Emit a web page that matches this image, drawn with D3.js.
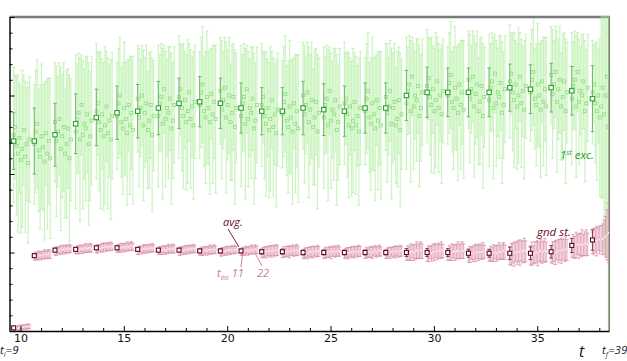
<!DOCTYPE html>
<html><head><meta charset="utf-8">
<script src="https://cdn.jsdelivr.net/npm/d3@7"></script>
<style>body{margin:0;background:#fff}svg{display:block}</style>
</head><body>
<script>
// ---------------- DATA ----------------
const times = [10,11,12,13,14,15,16,17,18,19,20,21,22,23,24,25,26,27,28,29,30,31,32,33,34,35,36,37,38];
const tInsLabels = ["11","22"];
const xTickLabels = [10,15,20,25,30,35];

// averaged first excited state
const excAvg = [1.21,1.21,1.25,1.32,1.36,1.39,1.40,1.42,1.45,1.46,1.45,1.42,1.40,1.40,1.42,1.41,1.40,1.42,1.42,1.50,1.52,1.52,1.52,1.52,1.55,1.54,1.55,1.53,1.48];
const excAvgErr = [0.18,0.21,0.20,0.19,0.18,0.17,0.17,0.17,0.16,0.16,0.16,0.16,0.15,0.15,0.17,0.165,0.16,0.16,0.16,0.16,0.16,0.155,0.155,0.155,0.15,0.155,0.155,0.155,0.21];

// individual insertion times t_ins = 11..22 for first excited state
const excVals = [
[1.25,1.30,1.18,1.13,1.23,1.09,1.16,1.28,1.11,1.19,1.07,1.22],
[1.19,1.27,1.32,1.15,1.11,1.24,1.17,1.08,1.26,1.13,1.21,1.10],
[1.33,1.21,1.27,1.35,1.16,1.24,1.30,1.13,1.19,1.29,1.10,1.22],
[1.27,1.35,1.39,1.22,1.44,1.25,1.32,1.29,1.38,1.19,1.24,1.34],
[1.40,1.45,1.33,1.28,1.38,1.24,1.31,1.43,1.26,1.34,1.22,1.37],
[1.37,1.45,1.50,1.33,1.29,1.42,1.35,1.26,1.44,1.31,1.39,1.28],
[1.48,1.36,1.42,1.50,1.31,1.39,1.45,1.28,1.34,1.44,1.25,1.37],
[1.37,1.45,1.49,1.32,1.54,1.35,1.42,1.39,1.48,1.29,1.34,1.44],
[1.49,1.54,1.42,1.37,1.47,1.33,1.40,1.52,1.35,1.43,1.31,1.46],
[1.44,1.52,1.57,1.40,1.36,1.49,1.42,1.33,1.51,1.38,1.46,1.35],
[1.53,1.41,1.47,1.55,1.36,1.44,1.50,1.33,1.39,1.49,1.30,1.42],
[1.37,1.45,1.49,1.32,1.54,1.35,1.42,1.39,1.48,1.29,1.34,1.44],
[1.44,1.49,1.37,1.32,1.42,1.28,1.35,1.47,1.30,1.38,1.26,1.41],
[1.38,1.46,1.51,1.34,1.30,1.43,1.36,1.27,1.45,1.32,1.40,1.29],
[1.50,1.38,1.44,1.52,1.33,1.41,1.47,1.30,1.36,1.46,1.27,1.39],
[1.36,1.44,1.48,1.31,1.53,1.34,1.41,1.38,1.47,1.28,1.33,1.43],
[1.45,1.48,1.38,1.31,1.43,1.29,1.34,1.46,1.31,1.37,1.27,1.42],
[1.40,1.48,1.53,1.36,1.32,1.45,1.38,1.29,1.47,1.34,1.42,1.31],
[1.49,1.39,1.43,1.53,1.32,1.42,1.46,1.31,1.35,1.47,1.28,1.38],
[1.45,1.53,1.57,1.40,1.62,1.43,1.50,1.47,1.56,1.37,1.42,1.52],
[1.56,1.61,1.49,1.44,1.54,1.40,1.47,1.59,1.42,1.50,1.38,1.53],
[1.50,1.58,1.63,1.46,1.42,1.55,1.48,1.39,1.57,1.44,1.52,1.41],
[1.60,1.48,1.54,1.62,1.43,1.51,1.57,1.40,1.46,1.56,1.37,1.49],
[1.47,1.55,1.59,1.42,1.64,1.45,1.52,1.49,1.58,1.39,1.44,1.54],
[1.59,1.64,1.52,1.47,1.57,1.43,1.50,1.62,1.45,1.53,1.41,1.56],
[1.52,1.60,1.65,1.48,1.44,1.57,1.50,1.41,1.59,1.46,1.54,1.43],
[1.63,1.51,1.57,1.65,1.46,1.54,1.60,1.43,1.49,1.59,1.40,1.52],
[1.48,1.56,1.60,1.43,1.65,1.46,1.53,1.50,1.59,1.40,1.45,1.55],
[1.52,1.57,1.45,1.40,1.50,1.36,1.43,1.55,1.38,1.50,1.62,1.30]
];
const excErrs = [
[0.43,0.33,0.44,0.50,0.35,0.47,0.50,0.35,0.48,0.36,0.51,0.40],
[0.38,0.39,0.41,0.39,0.46,0.46,0.40,0.50,0.33,0.48,0.40,0.51],
[0.38,0.48,0.35,0.36,0.52,0.39,0.41,0.41,0.47,0.38,0.53,0.39],
[0.49,0.35,0.38,0.52,0.32,0.47,0.35,0.46,0.37,0.52,0.41,0.41],
[0.43,0.33,0.44,0.50,0.35,0.47,0.50,0.35,0.48,0.36,0.51,0.40],
[0.34,0.35,0.37,0.35,0.42,0.42,0.36,0.46,0.29,0.44,0.36,0.47],
[0.34,0.44,0.31,0.32,0.48,0.35,0.37,0.37,0.43,0.34,0.49,0.35],
[0.45,0.31,0.34,0.48,0.28,0.43,0.31,0.42,0.33,0.48,0.37,0.37],
[0.39,0.29,0.40,0.46,0.31,0.43,0.46,0.31,0.44,0.32,0.47,0.36],
[0.34,0.35,0.37,0.35,0.42,0.42,0.36,0.46,0.29,0.44,0.36,0.47],
[0.34,0.44,0.31,0.32,0.48,0.35,0.37,0.37,0.43,0.34,0.49,0.35],
[0.45,0.31,0.34,0.48,0.28,0.43,0.31,0.42,0.33,0.48,0.37,0.37],
[0.39,0.29,0.40,0.46,0.31,0.43,0.46,0.31,0.44,0.32,0.47,0.36],
[0.34,0.35,0.37,0.35,0.42,0.42,0.36,0.46,0.29,0.44,0.36,0.47],
[0.34,0.44,0.31,0.32,0.48,0.35,0.37,0.37,0.43,0.34,0.49,0.35],
[0.45,0.31,0.34,0.48,0.28,0.43,0.31,0.42,0.33,0.48,0.37,0.37],
[0.39,0.29,0.40,0.46,0.31,0.43,0.46,0.31,0.44,0.32,0.47,0.36],
[0.34,0.35,0.37,0.35,0.42,0.42,0.36,0.46,0.29,0.44,0.36,0.47],
[0.34,0.44,0.31,0.32,0.48,0.35,0.37,0.37,0.43,0.34,0.49,0.35],
[0.42,0.28,0.31,0.45,0.25,0.40,0.28,0.39,0.30,0.45,0.34,0.34],
[0.36,0.26,0.37,0.43,0.28,0.40,0.43,0.28,0.41,0.29,0.44,0.33],
[0.31,0.32,0.34,0.32,0.39,0.39,0.33,0.43,0.26,0.41,0.33,0.44],
[0.31,0.41,0.28,0.29,0.45,0.32,0.34,0.34,0.40,0.31,0.46,0.32],
[0.42,0.28,0.31,0.45,0.25,0.40,0.28,0.39,0.30,0.45,0.34,0.34],
[0.36,0.26,0.37,0.43,0.28,0.40,0.43,0.28,0.41,0.29,0.44,0.33],
[0.31,0.32,0.34,0.32,0.39,0.39,0.33,0.43,0.26,0.41,0.33,0.44],
[0.31,0.41,0.28,0.29,0.45,0.32,0.34,0.34,0.40,0.31,0.46,0.32],
[0.42,0.28,0.31,0.45,0.25,0.40,0.28,0.39,0.30,0.45,0.34,0.34],
[0.33,0.25,0.38,0.44,0.30,0.50,0.58,0.70,0.85,1.00,1.15,1.35]
];

// averaged ground state
const gndAvg = [0.02,0.48,0.515,0.52,0.53,0.53,0.52,0.515,0.515,0.51,0.51,0.51,0.505,0.505,0.50,0.50,0.50,0.50,0.50,0.50,0.50,0.50,0.495,0.495,0.495,0.495,0.505,0.545,0.58];
const gndAvgErr = [0.01,0.012,0.012,0.012,0.012,0.012,0.012,0.012,0.012,0.012,0.012,0.012,0.015,0.015,0.015,0.015,0.015,0.015,0.015,0.025,0.025,0.025,0.025,0.025,0.04,0.04,0.04,0.045,0.065];

const gndVals = [
[0.010,0.014,0.020,0.016,0.024,0.022,0.026,0.023,0.028,0.025,0.030,0.027],
[0.472,0.478,0.475,0.481,0.484,0.479,0.485,0.489,0.484,0.488,0.491,0.486],
[0.505,0.509,0.515,0.511,0.519,0.517,0.521,0.518,0.523,0.520,0.525,0.522],
[0.512,0.518,0.515,0.521,0.524,0.519,0.525,0.529,0.524,0.528,0.531,0.526],
[0.520,0.524,0.530,0.526,0.534,0.532,0.536,0.533,0.538,0.535,0.540,0.537],
[0.522,0.528,0.525,0.531,0.534,0.529,0.535,0.539,0.534,0.538,0.541,0.536],
[0.510,0.514,0.520,0.516,0.524,0.522,0.526,0.523,0.528,0.525,0.530,0.527],
[0.507,0.513,0.510,0.516,0.519,0.514,0.520,0.524,0.519,0.523,0.526,0.521],
[0.505,0.509,0.515,0.511,0.519,0.517,0.521,0.518,0.523,0.520,0.525,0.522],
[0.502,0.508,0.505,0.511,0.514,0.509,0.515,0.519,0.514,0.518,0.521,0.516],
[0.500,0.504,0.510,0.506,0.514,0.512,0.516,0.513,0.518,0.515,0.520,0.517],
[0.502,0.508,0.505,0.511,0.514,0.509,0.515,0.519,0.514,0.518,0.521,0.516],
[0.495,0.499,0.505,0.501,0.509,0.507,0.511,0.508,0.513,0.510,0.515,0.512],
[0.497,0.503,0.500,0.506,0.509,0.504,0.510,0.514,0.509,0.513,0.516,0.511],
[0.490,0.494,0.500,0.496,0.504,0.502,0.506,0.503,0.508,0.505,0.510,0.507],
[0.492,0.498,0.495,0.501,0.504,0.499,0.505,0.509,0.504,0.508,0.511,0.506],
[0.490,0.494,0.500,0.496,0.504,0.502,0.506,0.503,0.508,0.505,0.510,0.507],
[0.491,0.499,0.496,0.502,0.503,0.500,0.506,0.510,0.503,0.509,0.512,0.507],
[0.489,0.495,0.501,0.497,0.505,0.501,0.507,0.504,0.509,0.504,0.511,0.508],
[0.488,0.497,0.492,0.502,0.506,0.499,0.507,0.513,0.505,0.511,0.515,0.508],
[0.486,0.492,0.500,0.494,0.506,0.503,0.509,0.504,0.512,0.507,0.515,0.510],
[0.488,0.497,0.492,0.502,0.506,0.499,0.507,0.513,0.505,0.511,0.515,0.508],
[0.481,0.487,0.495,0.489,0.501,0.498,0.504,0.499,0.507,0.502,0.510,0.505],
[0.483,0.492,0.487,0.497,0.501,0.494,0.502,0.508,0.500,0.506,0.510,0.503],
[0.480,0.488,0.496,0.490,0.503,0.499,0.506,0.500,0.509,0.504,0.513,0.507],
[0.482,0.492,0.486,0.498,0.503,0.495,0.504,0.511,0.501,0.508,0.513,0.505],
[0.490,0.498,0.506,0.500,0.513,0.509,0.516,0.510,0.519,0.514,0.523,0.517],
[0.530,0.540,0.534,0.546,0.551,0.543,0.552,0.559,0.549,0.556,0.561,0.553],
[0.562,0.570,0.578,0.572,0.585,0.581,0.590,0.584,0.596,0.600,0.612,0.625]
];
const gndErrs = [
[0.012,0.015,0.010,0.014,0.013,0.016,0.011,0.015,0.012,0.014,0.016,0.013],
[0.020,0.025,0.023,0.028,0.021,0.026,0.024,0.029,0.023,0.025,0.028,0.024],
[0.022,0.027,0.020,0.025,0.024,0.029,0.021,0.026,0.025,0.023,0.027,0.022],
[0.020,0.025,0.023,0.028,0.021,0.026,0.024,0.029,0.023,0.025,0.028,0.024],
[0.022,0.027,0.020,0.025,0.024,0.029,0.021,0.026,0.025,0.023,0.027,0.022],
[0.020,0.025,0.023,0.028,0.021,0.026,0.024,0.029,0.023,0.025,0.028,0.024],
[0.022,0.027,0.020,0.025,0.024,0.029,0.021,0.026,0.025,0.023,0.027,0.022],
[0.020,0.025,0.023,0.028,0.021,0.026,0.024,0.029,0.023,0.025,0.028,0.024],
[0.022,0.027,0.020,0.025,0.024,0.029,0.021,0.026,0.025,0.023,0.027,0.022],
[0.020,0.025,0.023,0.028,0.021,0.026,0.024,0.029,0.023,0.025,0.028,0.024],
[0.022,0.027,0.020,0.025,0.024,0.029,0.021,0.026,0.025,0.023,0.027,0.022],
[0.020,0.025,0.023,0.028,0.021,0.026,0.024,0.029,0.023,0.025,0.028,0.024],
[0.026,0.033,0.030,0.036,0.028,0.035,0.031,0.038,0.030,0.033,0.036,0.031],
[0.029,0.035,0.027,0.033,0.032,0.038,0.028,0.034,0.033,0.030,0.036,0.029],
[0.026,0.033,0.030,0.036,0.028,0.035,0.031,0.038,0.030,0.033,0.036,0.031],
[0.029,0.035,0.027,0.033,0.032,0.038,0.028,0.034,0.033,0.030,0.036,0.029],
[0.026,0.033,0.030,0.036,0.028,0.035,0.031,0.038,0.030,0.033,0.036,0.031],
[0.029,0.035,0.027,0.033,0.032,0.038,0.028,0.034,0.033,0.030,0.036,0.029],
[0.026,0.033,0.030,0.036,0.028,0.035,0.031,0.038,0.030,0.033,0.036,0.031],
[0.038,0.048,0.043,0.053,0.041,0.050,0.046,0.055,0.043,0.048,0.053,0.046],
[0.042,0.051,0.039,0.048,0.046,0.055,0.041,0.049,0.048,0.044,0.052,0.042],
[0.038,0.048,0.043,0.053,0.041,0.050,0.046,0.055,0.043,0.048,0.053,0.046],
[0.042,0.051,0.039,0.048,0.046,0.055,0.041,0.049,0.048,0.044,0.052,0.042],
[0.038,0.048,0.043,0.053,0.041,0.050,0.046,0.055,0.043,0.048,0.053,0.046],
[0.056,0.070,0.063,0.077,0.060,0.074,0.067,0.081,0.063,0.070,0.077,0.067],
[0.061,0.074,0.057,0.070,0.067,0.080,0.060,0.072,0.070,0.064,0.076,0.062],
[0.056,0.070,0.063,0.077,0.060,0.074,0.067,0.081,0.063,0.070,0.077,0.067],
[0.060,0.075,0.068,0.083,0.064,0.079,0.071,0.086,0.068,0.075,0.083,0.071],
[0.068,0.085,0.077,0.094,0.072,0.089,0.081,0.098,0.110,0.130,0.160,0.190]
];

// ---------------- LAYOUT ----------------
const W = 627, H = 361;
const L = 9.5, R = 609, T = 17, B = 331;
const OFF = -0.33, STEP = 0.07;

const svg = d3.select("body").append("svg").attr("width", W).attr("height", H)
  .style("font-family", "'Open Sans', 'DejaVu Sans', sans-serif");

const x = d3.scaleLinear().domain([9.47, 38.47]).range([L, R]);
const y = d3.scaleLinear().domain([0, 2]).range([B, T]);

// frame (top & right grey)
svg.append("line").attr("x1", L).attr("x2", R + 1).attr("y1", T).attr("y2", T)
  .attr("stroke", "#7a7a7a").attr("stroke-width", 2.5);
svg.append("line").attr("x1", R).attr("x2", R).attr("y1", T).attr("y2", B)
  .attr("stroke", "#7a7a7a").attr("stroke-width", 2);

svg.append("defs").append("clipPath").attr("id", "clip")
  .append("rect").attr("x", L).attr("y", T - 1).attr("width", R - L).attr("height", B - T + 1);
const plot = svg.append("g").attr("clip-path", "url(#clip)");

function flatten(vals, errs) {
  const out = [];
  times.forEach((t, i) => vals[i].forEach((v, k) => out.push({ t, k, v, e: errs[i][k] })));
  return out;
}
function ebPath(px, v, e, cap) {
  const y1 = y(v + e), y2 = y(v - e);
  return `M${px},${y1}V${y2}M${px - cap},${y1}H${px + cap}M${px - cap},${y2}H${px + cap}`;
}
const subX = d => x(d.t + OFF + d.k * STEP);
const avgX = t => x(t + OFF);

const exc = flatten(excVals, excErrs);
const gnd = flatten(gndVals, gndErrs);

// first excited: individual t_ins
plot.append("g").selectAll("path").data(exc).join("path")
  .attr("d", d => ebPath(subX(d), d.v, d.e, 1.5))
  .attr("fill", "none").attr("stroke", "#a8ec96").attr("stroke-opacity", 0.6).attr("stroke-width", 1.2);
plot.append("g").selectAll("rect").data(exc).join("rect")
  .attr("x", d => subX(d) - 1.5).attr("y", d => y(d.v) - 1.5).attr("width", 3).attr("height", 3)
  .attr("fill", "none").attr("stroke", "#8edc7c").attr("stroke-width", 0.8);

// first excited: averages
plot.append("g").selectAll("path").data(times).join("path")
  .attr("d", (t, i) => ebPath(avgX(t), excAvg[i], excAvgErr[i], 1.8))
  .attr("fill", "none").attr("stroke", "#6cb865").attr("stroke-width", 1);
plot.append("g").selectAll("rect").data(times).join("rect")
  .attr("x", t => avgX(t) - 2.2).attr("y", (t, i) => y(excAvg[i]) - 2.2).attr("width", 4.4).attr("height", 4.4)
  .attr("fill", "#fff").attr("stroke", "#2f9f2f").attr("stroke-width", 1.1);

// ground state: individual t_ins
plot.append("g").selectAll("path").data(gnd).join("path")
  .attr("d", d => ebPath(subX(d), d.v, d.e, 1.6))
  .attr("fill", "none").attr("stroke", "#d98aa8").attr("stroke-opacity", 0.75).attr("stroke-width", 1);
plot.append("g").selectAll("circle").data(gnd).join("circle")
  .attr("cx", d => subX(d)).attr("cy", d => y(d.v)).attr("r", 1.1)
  .attr("fill", "#fff").attr("stroke", "#e6a9c0").attr("stroke-width", 0.5);

// ground state: averages
plot.append("g").selectAll("path").data(times).join("path")
  .attr("d", (t, i) => ebPath(avgX(t), gndAvg[i], gndAvgErr[i], 1.8))
  .attr("fill", "none").attr("stroke", "#8e3a48").attr("stroke-width", 1);
plot.append("g").selectAll("rect").data(times).join("rect")
  .attr("x", t => avgX(t) - 2).attr("y", (t, i) => y(gndAvg[i]) - 2).attr("width", 4).attr("height", 4)
  .attr("fill", "#fff").attr("stroke", "#5e0f1c").attr("stroke-width", 1.1);

// ---------------- AXES ----------------
const yMinor = d3.range(0, 21).map(i => i / 10).filter(v => Math.round(v * 10) % 5 !== 0);
const yMajor = [0, 0.5, 1, 1.5, 2];
const gy1 = svg.append("g").attr("transform", `translate(${L},0)`)
  .call(d3.axisLeft(y).tickValues(yMinor).tickSize(-3).tickSizeOuter(0).tickFormat(""));
const gy2 = svg.append("g").attr("transform", `translate(${L},0)`)
  .call(d3.axisLeft(y).tickValues(yMajor).tickSize(-5).tickSizeOuter(0).tickFormat(""));
gy1.select(".domain").remove();

const gx1 = svg.append("g").attr("transform", `translate(0,${B})`)
  .call(d3.axisBottom(x).tickValues(times.filter(t => xTickLabels.indexOf(t) < 0)).tickSize(-3).tickSizeOuter(0).tickFormat(""));
const gx2 = svg.append("g").attr("transform", `translate(0,${B})`)
  .call(d3.axisBottom(x).tickValues(xTickLabels).tickSize(-5).tickSizeOuter(0).tickPadding(3).tickFormat(d3.format("d")));
gx1.select(".domain").remove();
[gy2, gx2].forEach(g => g.select(".domain").attr("stroke", "#000").attr("stroke-width", 1.4));
svg.selectAll(".tick line").attr("stroke", "#000").attr("stroke-width", 1);
gx2.selectAll("text").attr("font-family", "'DejaVu Sans', sans-serif").attr("font-size", 11).attr("fill", "#111");

// ---------------- LABELS ----------------
const it = sel => sel.attr("font-style", "italic");

// t_i = 9
const ti = svg.append("text").attr("x", 0).attr("y", 354).attr("font-size", 11.5).attr("fill", "#222").call(it);
ti.append("tspan").text("t");
ti.append("tspan").attr("font-size", 7).attr("dy", 3).text("i");
ti.append("tspan").attr("dy", -3).text("=9");

// t_f = 39
const tf = svg.append("text").attr("x", 602).attr("y", 354).attr("font-size", 11.5).attr("fill", "#222").call(it);
tf.append("tspan").text("t");
tf.append("tspan").attr("font-size", 7).attr("dy", 3).text("f");
tf.append("tspan").attr("dy", -3).text("=39");

// axis label
svg.append("text").attr("x", 579).attr("y", 357).attr("font-size", 16).attr("fill", "#111").call(it).text("t");

// 1st exc.
const ex = svg.append("text").attr("x", 560).attr("y", 159).attr("font-size", 11.5).attr("fill", "#279a27").call(it);
ex.append("tspan").text("1");
ex.append("tspan").attr("font-size", 7).attr("dy", -4).text("st");
ex.append("tspan").attr("dy", 4).text(" exc.");

// gnd st.
svg.append("text").attr("x", 537).attr("y", 236).attr("font-size", 11.5).attr("fill", "#6e0f1e").call(it).text("gnd st.");

// avg. + pointer
svg.append("text").attr("x", 223).attr("y", 226).attr("font-size", 11).attr("fill", "#6e0f1e").call(it).text("avg.");
svg.append("line").attr("x1", 228).attr("y1", 229).attr("x2", 239).attr("y2", 247)
  .attr("stroke", "#6e0f1e").attr("stroke-width", 0.9);

// t_ins labels + pointers
const pinkTxt = "#d2739c";
const tl = svg.append("text").attr("x", 217).attr("y", 277).attr("font-size", 11).attr("fill", pinkTxt).call(it);
tl.append("tspan").text("t");
tl.append("tspan").attr("font-size", 6.5).attr("dy", 2.5).text("ins");
tl.append("tspan").attr("dy", -2.5).text(" " + tInsLabels[0]);
svg.append("text").attr("x", 257).attr("y", 277).attr("font-size", 11).attr("fill", pinkTxt).call(it).text(tInsLabels[1]);
svg.append("line").attr("x1", 242.5).attr("y1", 254).attr("x2", 241).attr("y2", 267)
  .attr("stroke", pinkTxt).attr("stroke-width", 0.9);
svg.append("line").attr("x1", 255.5).attr("y1", 254).attr("x2", 262).attr("y2", 266)
  .attr("stroke", pinkTxt).attr("stroke-width", 0.9);
</script>
</body></html>
